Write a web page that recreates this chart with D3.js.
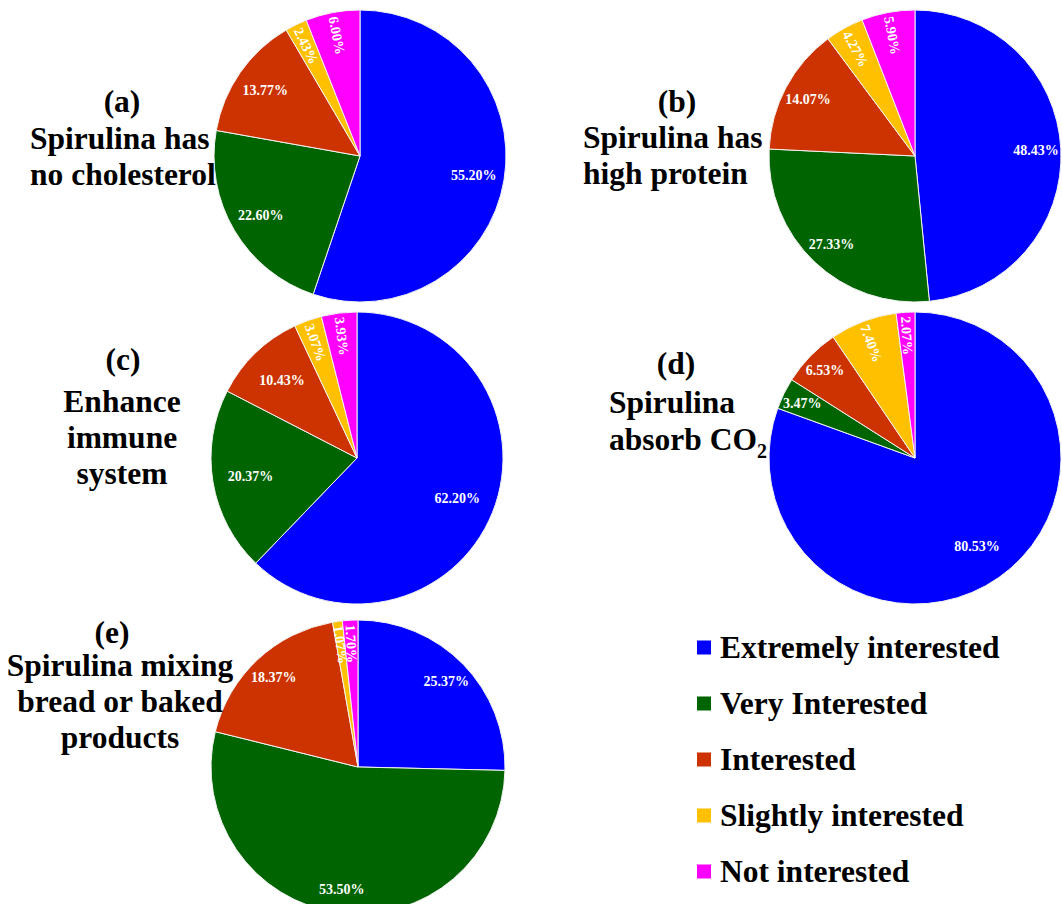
<!DOCTYPE html>
<html>
<head>
<meta charset="utf-8">
<script src="https://cdn.jsdelivr.net/npm/d3@7"></script>
<style>
  html, body { margin: 0; padding: 0; background: #fff; }
  svg { display: block; }
</style>
</head>
<body>
<svg id="chart" width="1062" height="904"></svg>
<script>
// Interest levels shared by every pie, in drawing order (clockwise from 12 o'clock)
const categories = ["Extremely interested", "Very Interested", "Interested", "Slightly interested", "Not interested"];
const colors = ["#0000ff", "#006400", "#cc3300", "#ffc000", "#ff00ff"];

// Percentage of respondents per interest level, one array per statement
const valuesA = [55.20, 22.60, 13.77, 2.43, 6.00];
const valuesB = [48.43, 27.33, 14.07, 4.27, 5.90];
const valuesC = [62.20, 20.37, 10.43, 3.07, 3.93];
const valuesD = [80.53, 3.47, 6.53, 7.40, 2.07];
const valuesE = [25.37, 53.50, 18.37, 1.07, 1.70];

const panelLetters = ["(a)", "(b)", "(c)", "(d)", "(e)"];
const titleA = ["Spirulina has", "no cholesterol"];
const titleB = ["Spirulina has", "high protein"];
const titleC = ["Enhance", "immune", "system"];
const titleD = ["Spirulina", "absorb CO|2"];   // "|" marks a subscript
const titleE = ["Spirulina mixing", "bread or baked", "products"];

// Layout of each panel: pie centre/radius and title placement
const panels = [
  { values: valuesA, title: titleA, cx: 360, cy: 156, r: 146, k: 0.79,
    letterX: 122, letterY: 112, lineX: 30, align: "start", lineY: [149, 185] },
  { values: valuesB, title: titleB, cx: 915, cy: 156, r: 146, k: 0.83,
    letterX: 677, letterY: 112, lineX: 583, align: "start", lineY: [148, 184] },
  { values: valuesC, title: titleC, cx: 357, cy: 458, r: 146, k: 0.74,
    letterX: 123, letterY: 370, lineX: 122, align: "middle", lineY: [412, 448, 484] },
  { values: valuesD, title: titleD, cx: 915, cy: 458, r: 146, k: 0.74,
    letterX: 676, letterY: 374, lineX: 609, align: "start", lineY: [413, 450] },
  { values: valuesE, title: titleE, cx: 358, cy: 767, r: 147, k: 0.84,
    letterX: 112, letterY: 643, lineX: 120, align: "middle", lineY: [676, 712, 748] }
];

const svg = d3.select("#chart");
const serif = "'Liberation Serif', 'Times New Roman', serif";

const pie = d3.pie().sort(null).value(d => d);

panels.forEach((p, pi) => {
  const g = svg.append("g").attr("transform", `translate(${p.cx},${p.cy})`);
  const arc = d3.arc().innerRadius(0).outerRadius(p.r);
  const arcs = pie(p.values);

  g.selectAll("path.slice")
    .data(arcs)
    .join("path")
    .attr("class", "slice")
    .attr("d", arc)
    .attr("fill", (d, i) => colors[i])
    .attr("stroke", "#f2f2f2")
    .attr("stroke-width", 1);

  // Value labels: wide slices get horizontal text, thin ones near the top run radially
  arcs.forEach((d, i) => {
    const mid = (d.startAngle + d.endAngle) / 2;
    const small = d.value < 8;
    const vertical = Math.abs(Math.cos(mid)) > Math.abs(Math.sin(mid));
    const rotate = small && vertical;
    let k = p.k;
    if (small) k = rotate ? 0.84 : 0.86;
    const la = d3.arc().innerRadius(p.r * k).outerRadius(p.r * k);
    const [x, y] = la.centroid(d);
    const deg = mid * 180 / Math.PI - 270;
    g.append("text")
      .attr("transform", rotate ? `translate(${x},${y}) rotate(${deg})` : `translate(${x},${y})`)
      .attr("text-anchor", "middle")
      .attr("dy", "0.35em")
      .attr("fill", "#fff")
      .attr("font-family", serif)
      .attr("font-weight", "bold")
      .attr("font-size", 14)
      .text(d.value.toFixed(2) + "%");
  });

  // Panel title
  const tg = svg.append("g")
    .attr("font-family", serif)
    .attr("font-weight", "bold")
    .attr("font-size", 31.5)
    .attr("fill", "#000");
  tg.append("text")
    .attr("x", p.letterX).attr("y", p.letterY)
    .attr("text-anchor", "middle")
    .text(panelLetters[pi]);
  p.title.forEach((line, li) => {
    const t = tg.append("text")
      .attr("x", p.lineX).attr("y", p.lineY[li])
      .attr("text-anchor", p.align);
    const parts = line.split("|");
    t.append("tspan").text(parts[0]);
    if (parts[1]) {
      t.append("tspan").attr("font-size", 20).attr("dy", 8).text(parts[1]);
    }
  });
});

// Legend
const legend = svg.append("g");
categories.forEach((c, i) => {
  const cyL = 647.5 + i * 56;
  legend.append("rect")
    .attr("x", 697).attr("y", cyL - 7)
    .attr("width", 14).attr("height", 14)
    .attr("fill", colors[i]);
  legend.append("text")
    .attr("x", 720).attr("y", cyL + 10)
    .attr("font-family", serif)
    .attr("font-weight", "bold")
    .attr("font-size", 31.5)
    .text(c);
});
</script>
</body>
</html>
